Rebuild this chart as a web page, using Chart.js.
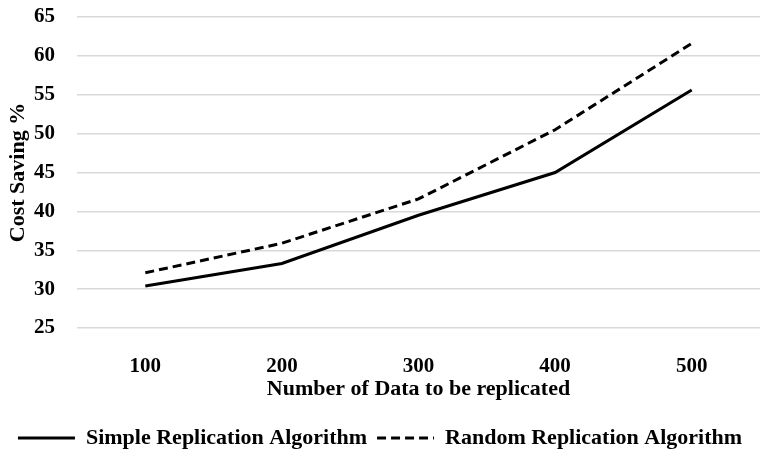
<!DOCTYPE html>
<html lang="en">
<head>
    <meta charset="UTF-8">
    <title>Cost Saving</title>
    <script src="https://cdn.jsdelivr.net/npm/chart.js"></script>
    <style>
        html, body { margin: 0; padding: 0; background: #ffffff; }
        .chart-box { width: 760px; height: 453px; }
    </style>
</head>
<body>
    <div class="chart-box"><canvas id="costChart"></canvas></div>
    <script>
        // data
        const categories = ['100', '200', '300', '400', '500'];
        const simpleReplication = [30.4, 33.3, 39.5, 45.0, 55.6];
        const randomReplication = [32.1, 35.9, 41.6, 50.5, 61.6];
        const yTicks = [25, 30, 35, 40, 45, 50, 55, 60, 65];

        const serif = "'Liberation Serif', 'Times New Roman', serif";

        const ctx = document.getElementById('costChart').getContext('2d');
        new Chart(ctx, {
            type: 'line',
            data: {
                labels: categories,
                datasets: [{
                    label: 'Simple Replication Algorithm',
                    data: simpleReplication,
                    borderColor: '#000000',
                    backgroundColor: '#000000',
                    borderWidth: 3,
                    pointRadius: 0,
                    tension: 0
                }, {
                    label: 'Random Replication Algorithm',
                    data: randomReplication,
                    borderColor: '#000000',
                    backgroundColor: '#000000',
                    borderWidth: 3,
                    borderDash: [9, 5],
                    pointRadius: 0,
                    tension: 0
                }]
            },
            options: {
                responsive: true,
                maintainAspectRatio: false,
                animation: false,
                layout: { padding: { top: 17, right: 0, left: 0, bottom: -6 } },
                plugins: {
                    tooltip: { enabled: false },
                    legend: {
                        position: 'bottom',
                        labels: {
                            usePointStyle: true,
                            pointStyle: 'line',
                            pointStyleWidth: 57,
                            color: '#000000',
                            padding: 10,
                            font: { family: serif, size: 22, weight: 'bold' },
                            // point-style legend items lose the dataset dash, so copy it back
                            generateLabels: (chart) => {
                                const items = Chart.defaults.plugins.legend.labels.generateLabels(chart);
                                items.forEach(item => {
                                    const ds = chart.data.datasets[item.datasetIndex];
                                    item.lineDash = ds.borderDash || [];
                                    item.lineWidth = 3;
                                    item.strokeStyle = '#000000';
                                });
                                return items;
                            }
                        }
                    }
                },
                scales: {
                    x: {
                        offset: true,
                        grid: { display: false, drawTicks: false },
                        border: { display: false },
                        afterFit: (axis) => { axis.height = 89; },
                        ticks: {
                            color: '#000000',
                            padding: 26,
                            font: { family: serif, size: 21, weight: 'bold' }
                        },
                        title: {
                            display: true,
                            text: 'Number of Data to be replicated',
                            color: '#000000',
                            padding: { top: 0, bottom: 14 },
                            font: { family: serif, size: 22, weight: 'bold' }
                        }
                    },
                    y: {
                        min: 25,
                        max: 65,
                        afterBuildTicks: (axis) => {
                            axis.ticks = yTicks.map(v => ({ value: v }));
                        },
                        afterFit: (axis) => {
                            axis.width = 77;
                            axis.paddingTop = 0;
                            axis.paddingBottom = 0;
                        },
                        grid: { color: '#d9d9d9', lineWidth: 1.5, drawTicks: false },
                        border: { display: false },
                        ticks: {
                            color: '#000000',
                            padding: 22,
                            font: { family: serif, size: 21, weight: 'bold' }
                        },
                        title: {
                            display: true,
                            text: 'Cost Saving %',
                            color: '#000000',
                            padding: { top: 5, bottom: 0 },
                            font: { family: serif, size: 22, weight: 'bold' }
                        }
                    }
                }
            }
        });
    </script>
</body>
</html>
